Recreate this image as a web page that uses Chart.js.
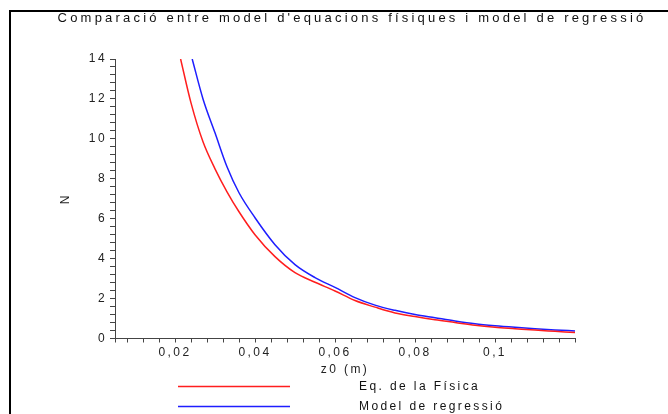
<!DOCTYPE html>
<html>
<head>
<meta charset="utf-8">
<script src="https://cdn.jsdelivr.net/npm/chart.js@4.4.1/dist/chart.umd.min.js"></script>
<style>
  html, body { margin: 0; padding: 0; background: #fff; }
  #wrap { width: 668px; height: 414px; }
</style>
</head>
<body>
<div id="wrap"><canvas id="chart" width="668" height="414"></canvas></div>
<script>
const titleText = "Comparació entre model d'equacions físiques i model de regressió";
const xTitle = "z0 (m)";
const yTitle = "N";

// Eq. de la Física : N against z0
const zPhys = [0.0214, 0.024, 0.027, 0.030, 0.033, 0.036, 0.040, 0.045, 0.050, 0.055, 0.060,
               0.065, 0.070, 0.075, 0.080, 0.085, 0.090, 0.095, 0.100, 0.105, 0.110, 0.115, 0.120];
const nPhys = [14, 11.8, 9.85, 8.5, 7.35, 6.35, 5.2, 4.1, 3.3, 2.82, 2.38,
               1.9, 1.57, 1.28, 1.1, 0.94, 0.8, 0.66, 0.56, 0.49, 0.42, 0.36, 0.30];

// Model de regressió : N against z0
const zReg = [0.0243, 0.027, 0.030, 0.033, 0.036, 0.040, 0.045, 0.050, 0.055, 0.060,
              0.065, 0.070, 0.075, 0.080, 0.085, 0.090, 0.095, 0.100, 0.105, 0.110, 0.115, 0.120];
const nReg = [14, 12.0, 10.3, 8.6, 7.3, 6.05, 4.7, 3.7, 3.05, 2.56,
              2.05, 1.67, 1.41, 1.2, 1.04, 0.88, 0.74, 0.64, 0.56, 0.49, 0.43, 0.38];

const seriesNames = ["Eq. de la Física", "Model de regressió"];
const seriesColors = ["#ff1e1e", "#1e1eff"];

const xLabels = [0.02, 0.04, 0.06, 0.08, 0.1];
const yLabels = [0, 2, 4, 6, 8, 10, 12, 14];
const xMin = 0.005, xMax = 0.12, xStep = 0.004;
const yMin = 0, yMax = 14, yStep = 0.4;

const FONT = '"Liberation Sans", Arial, sans-serif';
const SPACING = '2.4px';

function toPoints(xs, ys) {
  return xs.map((x, i) => ({ x: x, y: ys[i] }));
}

// minor tick positions, labels only where listed
function stepTicks(min, max, step, first) {
  const out = [{ value: min }];
  for (let v = first; v <= max + 1e-9; v += step) out.push({ value: +v.toFixed(4) });
  return out;
}

// canvas letter spacing so the text gets the wide look
const spacingPlugin = {
  id: 'spacing',
  beforeDraw(chart) { chart.ctx.letterSpacing = SPACING; }
};

// title, legend rows and the frame
const decorPlugin = {
  id: 'decor',
  afterDraw(chart) {
    const ctx = chart.ctx;
    ctx.save();
    ctx.fillStyle = '#111';
    ctx.textBaseline = 'middle';

    ctx.letterSpacing = '3.2px';
    ctx.font = '13px ' + FONT;
    ctx.textAlign = 'center';
    ctx.fillText(titleText, 352, 18);

    ctx.letterSpacing = SPACING;
    ctx.font = '12px ' + FONT;
    chart.data.datasets.forEach((ds, i) => {
      const y = 386.5 + i * 20;
      ctx.strokeStyle = ds.borderColor;
      ctx.lineWidth = 1.3;
      ctx.beginPath();
      ctx.moveTo(178, y);
      ctx.lineTo(290, y);
      ctx.stroke();
      ctx.textAlign = 'left';
      ctx.fillText(ds.label, 359, y);
    });

    ctx.strokeStyle = '#000';
    ctx.lineWidth = 2;
    ctx.beginPath();
    ctx.moveTo(10, 414);
    ctx.lineTo(10, 11);
    ctx.lineTo(668, 11);
    ctx.stroke();
    ctx.restore();
  }
};

new Chart(document.getElementById('chart'), {
  type: 'line',
  data: {
    datasets: [
      {
        label: seriesNames[0],
        data: toPoints(zPhys, nPhys),
        borderColor: seriesColors[0],
        borderWidth: 1.5,
        pointRadius: 0,
        cubicInterpolationMode: 'monotone',
        fill: false
      },
      {
        label: seriesNames[1],
        data: toPoints(zReg, nReg),
        borderColor: seriesColors[1],
        borderWidth: 1.5,
        pointRadius: 0,
        cubicInterpolationMode: 'monotone',
        fill: false
      }
    ]
  },
  options: {
    responsive: false,
    devicePixelRatio: 1,
    animation: false,
    layout: { padding: { top: 59, left: 58.8, right: 93, bottom: 36.8 } },
    plugins: {
      legend: { display: false },
      title: { display: false },
      tooltip: { enabled: false }
    },
    scales: {
      x: {
        type: 'linear',
        min: xMin,
        max: xMax,
        afterBuildTicks: (scale) => { scale.ticks = stepTicks(xMin, xMax, xStep, 0.008); },
        afterFit: (scale) => { scale.height = 38.7; },
        grid: { display: true, drawOnChartArea: false, tickLength: 4, tickColor: '#444' },
        border: { display: true, color: '#444', width: 1 },
        ticks: {
          autoSkip: false,
          maxRotation: 0,
          padding: 3,
          color: '#222',
          font: { family: FONT, size: 12 },
          callback: (v) => {
            const hit = xLabels.find(t => Math.abs(t - v) < 1e-7);
            return hit === undefined ? '' : String(hit).replace('.', ',');
          }
        },
        title: {
          display: true,
          text: xTitle,
          color: '#222',
          padding: 0,
          font: { family: FONT, size: 12 }
        }
      },
      y: {
        type: 'linear',
        min: yMin,
        max: yMax,
        afterBuildTicks: (scale) => { scale.ticks = stepTicks(yMin, yMax, yStep, yStep); },
        afterFit: (scale) => { scale.width = 56.2; },
        grid: { display: true, drawOnChartArea: false, tickLength: 5, tickColor: '#444' },
        border: { display: true, color: '#444', width: 1 },
        ticks: {
          autoSkip: false,
          padding: 3,
          color: '#222',
          font: { family: FONT, size: 12 },
          callback: (v) => {
            const r = Math.round(v);
            return Math.abs(v - r) < 1e-6 && yLabels.includes(r) ? String(r) : '';
          }
        },
        title: {
          display: true,
          text: yTitle,
          color: '#222',
          padding: 0,
          font: { family: FONT, size: 12 }
        }
      }
    }
  },
  plugins: [spacingPlugin, decorPlugin]
});
</script>
</body>
</html>
